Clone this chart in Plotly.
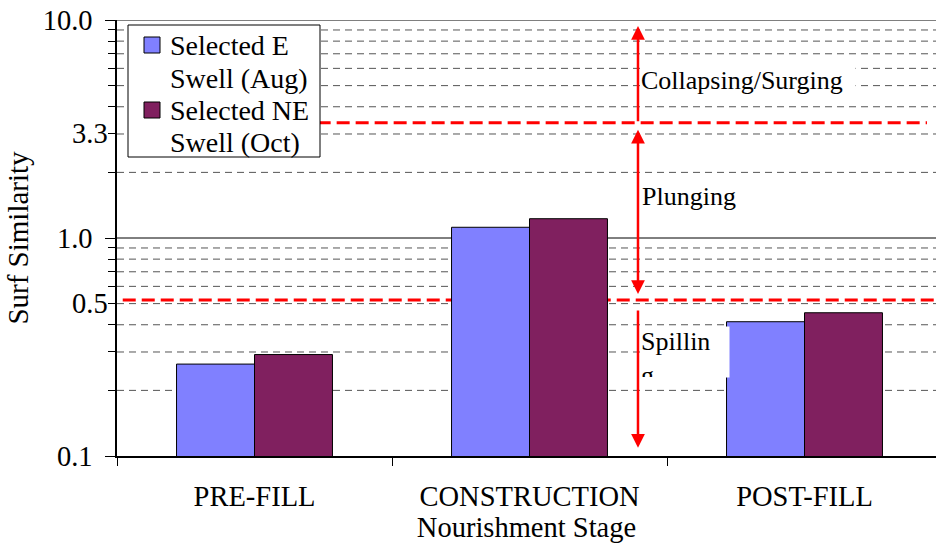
import math
import plotly.graph_objects as go

# Surf similarity per nourishment stage for the two selected swells
stages = ["PRE-FILL", "CONSTRUCTION", "POST-FILL"]
e_swell_aug = [0.264, 1.12, 0.413]
ne_swell_oct = [0.292, 1.226, 0.454]
series_lines = [["Selected E", "Swell (Aug)"], ["Selected NE", "Swell (Oct)"]]
series_colors = ["#8080FF", "#80205F"]

# Breaker-type thresholds (red dashed lines)
threshold_low = 0.52
threshold_high = 3.38

# Axis ticks and log grid
major_ticks = [0.1, 1, 10]
major_text = ["0.1", "1.0", "10.0"]
extra_tick_labels = [(0.5, "0.5"), (3.0, "3.3")]
minor_grid = [0.2, 0.3, 0.4, 0.5, 0.6, 0.7, 0.8, 0.9,
              2, 3, 4, 5, 6, 7, 8, 9]
solid_grid = [1, 10]

FONT = "Liberation Serif, Times New Roman, serif"
W, H = 936, 546
ML, MR, MT, MB = 117, 0, 20, 90
plot_w = W - ML - MR
plot_h = H - MT - MB
cat_px = 275.0
x_hi = -0.5 + plot_w / cat_px


def px_x(p):
    """pixel column -> paper x"""
    return (p - ML) / plot_w


def px_y(p):
    """pixel row -> paper y"""
    return 1 - (p - MT) / plot_h


fig = go.Figure()
for lines, vals, col in zip(series_lines, [e_swell_aug, ne_swell_oct], series_colors):
    fig.add_trace(go.Bar(
        x=stages, y=vals, name=" ".join(lines), showlegend=False,
        marker=dict(color=col, line=dict(color="black", width=1)),
    ))

shapes = []
for v in minor_grid:
    shapes.append(dict(type="line", xref="paper", x0=0, x1=1, yref="y", y0=v, y1=v,
                       line=dict(color="#555555", width=1, dash="7px,5px"), layer="below"))
for v in solid_grid:
    shapes.append(dict(type="line", xref="paper", x0=0, x1=1, yref="y", y0=v, y1=v,
                       line=dict(color="black", width=1), layer="below"))
# threshold lines
shapes.append(dict(type="line", xref="paper", x0=0.007, x1=1, yref="y",
                   y0=threshold_low, y1=threshold_low,
                   line=dict(color="#FF0000", width=3, dash="13px,6px"), layer="below"))
shapes.append(dict(type="line", xref="paper", x0=0.245, x1=0.989, yref="y",
                   y0=threshold_high, y1=threshold_high,
                   line=dict(color="#FF0000", width=3, dash="13px,6px"), layer="below"))

# legend box with colour swatches
shapes.append(dict(type="rect", xref="paper", yref="paper",
                   x0=px_x(128), x1=px_x(320), y0=px_y(157), y1=px_y(25),
                   fillcolor="white", line=dict(color="black", width=1), layer="above"))
swatch_rows = [37, 102]
for top, col in zip(swatch_rows, series_colors):
    shapes.append(dict(type="rect", xref="paper", yref="paper",
                       x0=px_x(144), x1=px_x(160), y0=px_y(top + 16), y1=px_y(top),
                       fillcolor=col, line=dict(color="black", width=1), layer="above"))

lg = math.log10
arrow_x = 1.3945
text_x = 1.402

annotations = []
# legend text, one line per annotation
legend_rows = [45, 78, 110, 142]
flat_lines = [t for pair in series_lines for t in pair]
for row, t in zip(legend_rows, flat_lines):
    annotations.append(dict(xref="paper", x=px_x(168), xanchor="left",
                            yref="paper", y=px_y(row), yanchor="middle", text=t,
                            showarrow=False, font=dict(family=FONT, size=28, color="black")))

for v, t in extra_tick_labels:
    annotations.append(dict(xref="paper", x=-7 / plot_w, xanchor="right",
                            yref="y", y=lg(v), yanchor="middle", text=t,
                            showarrow=False, font=dict(family=FONT, size=28.5, color="black")))

annotations += [
    dict(xref="x", x=text_x, xanchor="left", yref="y", y=0.7248, yanchor="middle",
         text="Collapsing/Surging", showarrow=False, align="left",
         width=214, height=34, bgcolor="white", borderpad=0,
         font=dict(family=FONT, size=26, color="black")),
    dict(xref="x", x=text_x, xanchor="left", yref="y", y=0.19, yanchor="middle",
         text="Plunging", showarrow=False, align="left",
         font=dict(family=FONT, size=26, color="black")),
    dict(xref="x", x=text_x, xanchor="left", yref="y", y=-0.402, yanchor="top",
         text="Spillin<br>g", showarrow=False, align="left", valign="top",
         width=88, height=50, bgcolor="white", borderpad=0,
         font=dict(family=FONT, size=26, color="black")),
]

arrow_style = dict(showarrow=True, arrowcolor="#FF0000", arrowwidth=2.5,
                   arrowhead=2, arrowsize=1.1, text="", axref="x", ayref="y",
                   xref="x", yref="y")
annotations += [
    dict(x=arrow_x, y=lg(9.39), ax=arrow_x, ay=lg(threshold_high), **arrow_style),
    dict(x=arrow_x, y=lg(0.554), ax=arrow_x, ay=lg(3.19), arrowside="end+start",
         startarrowhead=2, startarrowsize=1.1, **arrow_style),
    dict(x=arrow_x, y=lg(0.109), ax=arrow_x, ay=lg(0.472), **arrow_style),
]

fig.update_layout(
    width=W, height=H, autosize=False,
    margin=dict(l=ML, r=MR, t=MT, b=MB, pad=0),
    paper_bgcolor="white", plot_bgcolor="white",
    font=dict(family=FONT, size=28, color="black"),
    barmode="group", bargap=0.433, bargroupgap=0,
    showlegend=False,
    shapes=shapes, annotations=annotations,
    xaxis=dict(range=[-0.5, x_hi], showgrid=False, showline=True,
               linecolor="black", linewidth=2, ticks="outside", tickson="boundaries",
               ticklen=8, tickcolor="black", tickwidth=1, ticklabelstandoff=14,
               tickfont=dict(family=FONT, size=28.5),
               title=dict(text="Nourishment Stage", font=dict(family=FONT, size=28.5),
                          standoff=4),
               fixedrange=True, zeroline=False),
    yaxis=dict(type="log", range=[-1, 1], showgrid=False, showline=True,
               linecolor="black", linewidth=1.5, ticks="outside", ticklen=10,
               tickcolor="black", tickwidth=1, ticklabelstandoff=7,
               tickvals=major_ticks, ticktext=major_text,
               tickfont=dict(family=FONT, size=28.5),
               minor=dict(tickvals=minor_grid, ticks="outside", ticklen=7,
                          tickcolor="black", tickwidth=1, showgrid=False),
               title=dict(text="Surf Similarity", font=dict(family=FONT, size=29),
                          standoff=6),
               zeroline=False, fixedrange=True),
)

fig.write_html("out.html")
